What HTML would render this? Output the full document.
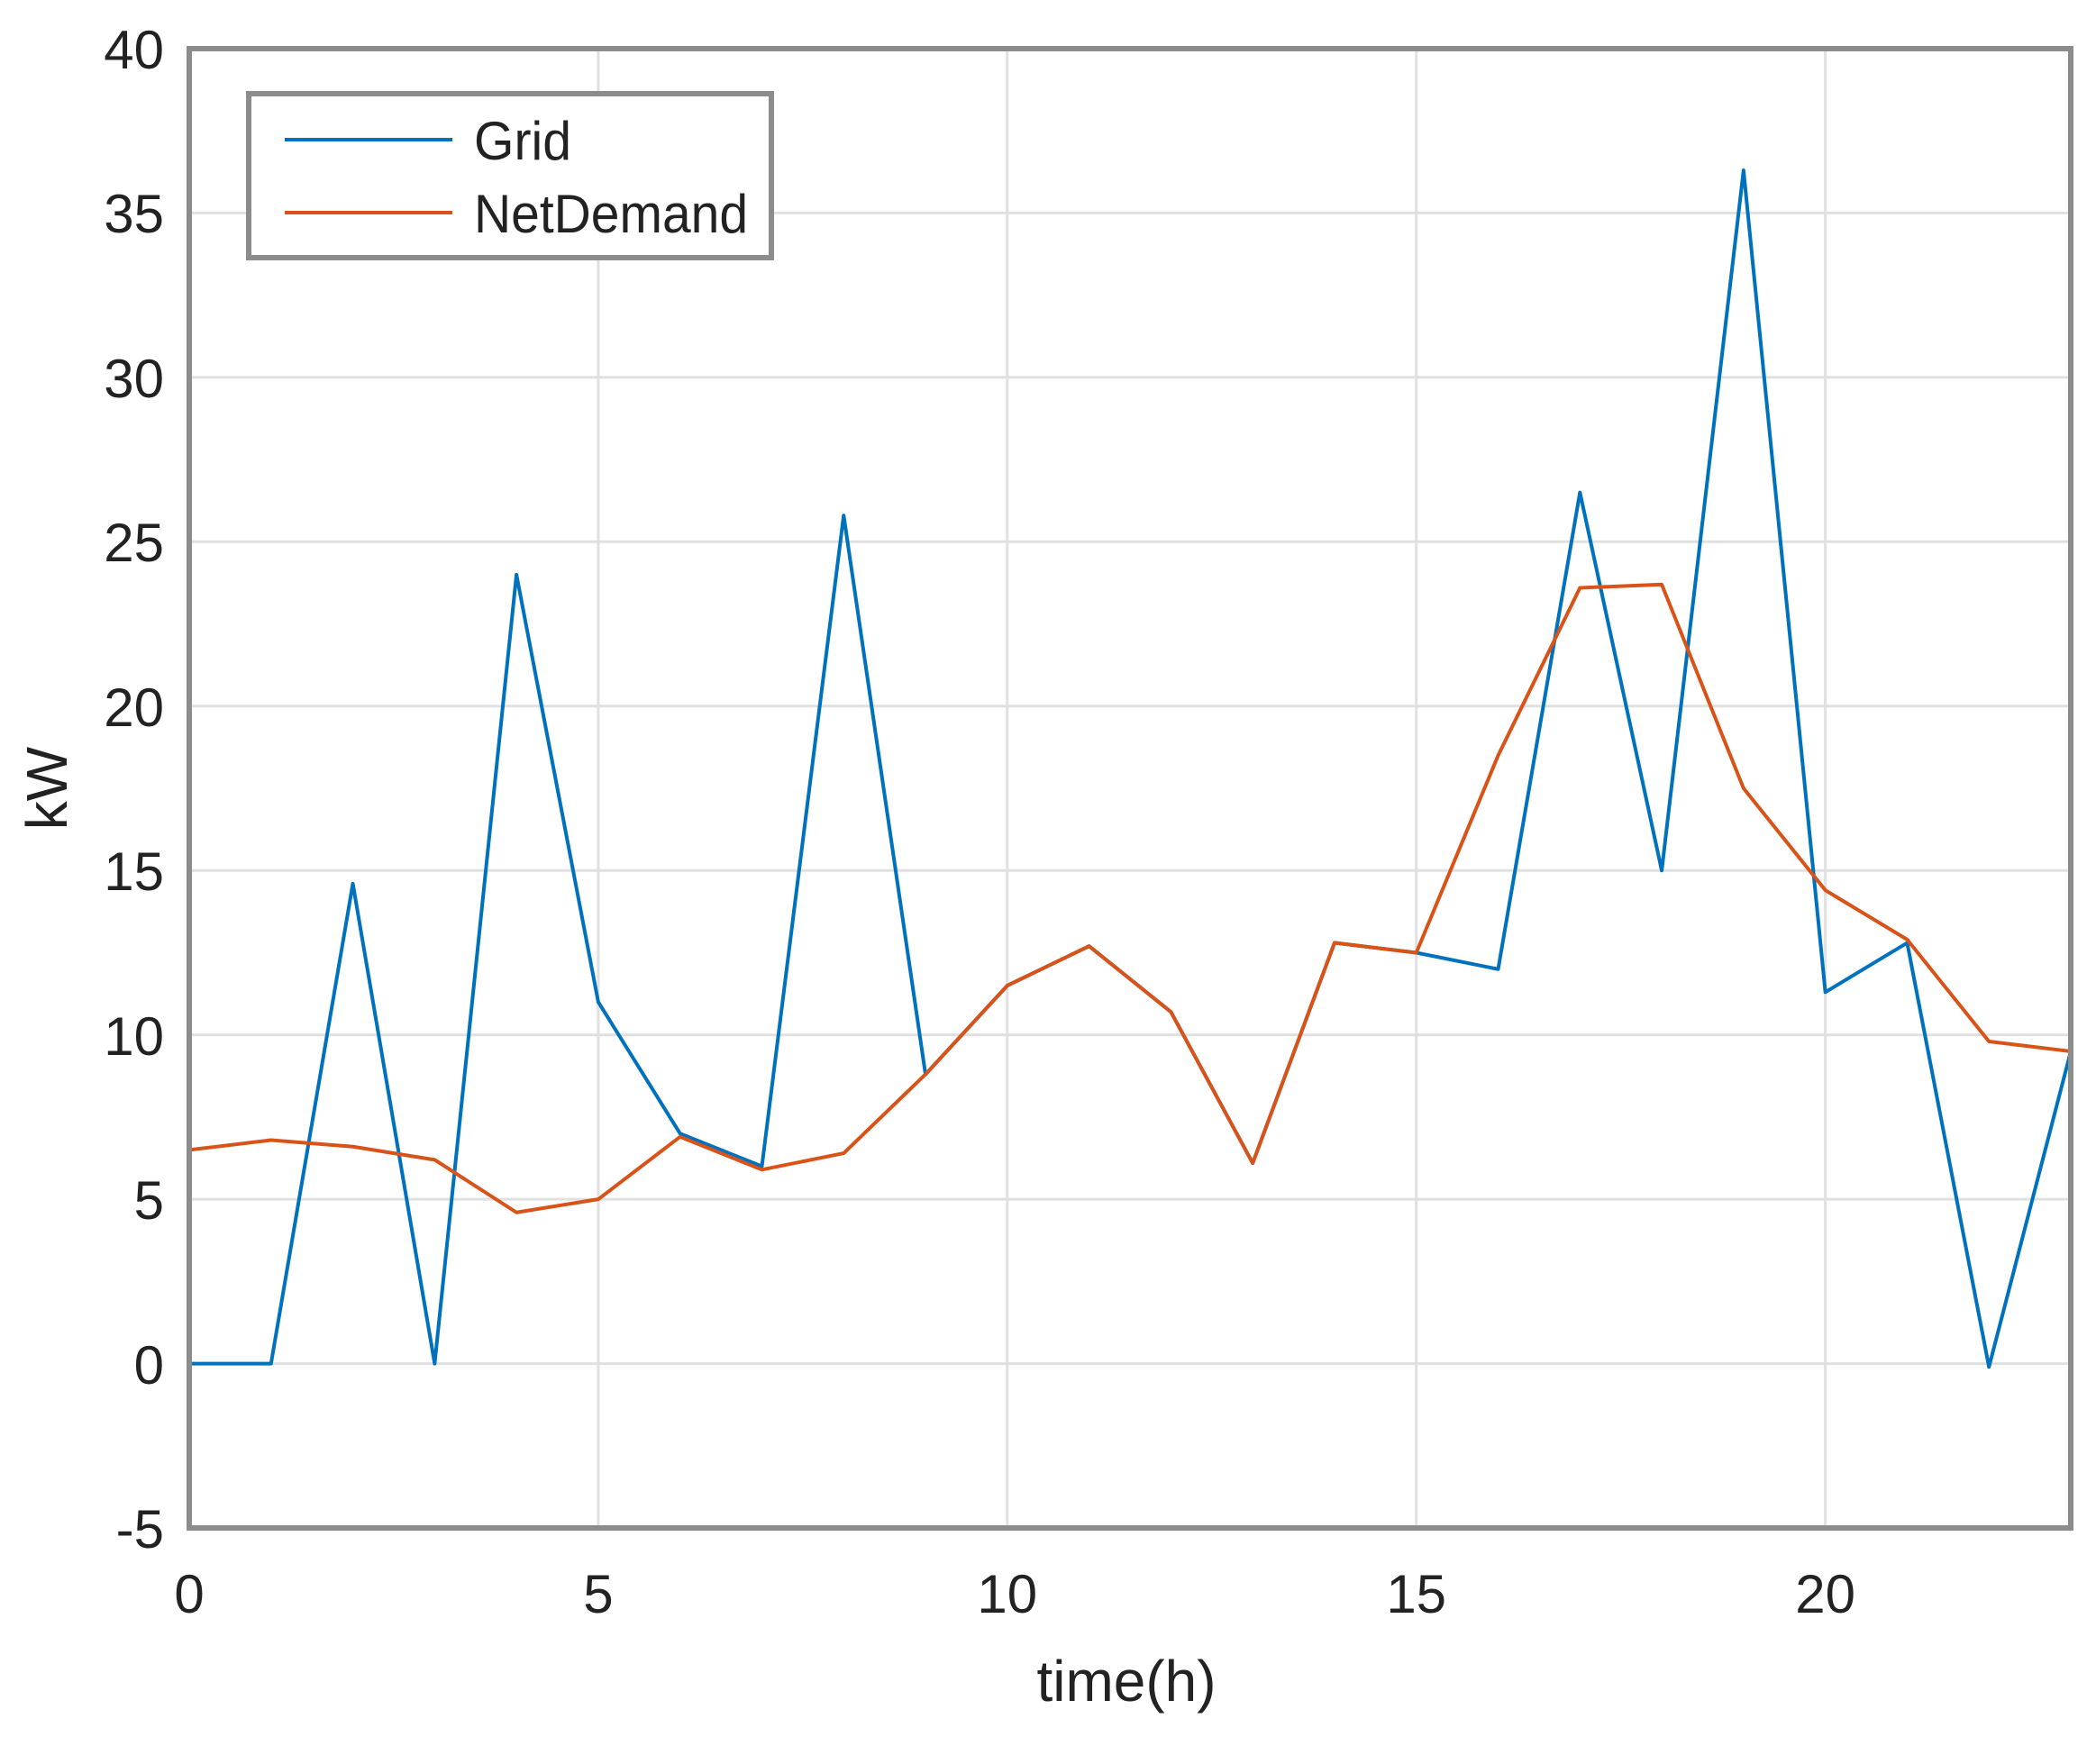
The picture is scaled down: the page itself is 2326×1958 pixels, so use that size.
<!DOCTYPE html>
<html><head><style>html,body{margin:0;padding:0;background:#fff}svg{display:block}</style></head>
<body>
<svg width="2326" height="1958" viewBox="0 0 2326 1958" xmlns="http://www.w3.org/2000/svg">
<rect width="2326" height="1958" fill="#fff"/>
<g stroke="#e0e0e0" stroke-width="3">
<line x1="663.9" y1="54" x2="663.9" y2="1696"/><line x1="1117.8" y1="54" x2="1117.8" y2="1696"/>
<line x1="1571.7" y1="54" x2="1571.7" y2="1696"/><line x1="2025.6" y1="54" x2="2025.6" y2="1696"/>
<line x1="210" y1="236.4" x2="2298" y2="236.4"/><line x1="210" y1="418.9" x2="2298" y2="418.9"/>
<line x1="210" y1="601.3" x2="2298" y2="601.3"/><line x1="210" y1="783.8" x2="2298" y2="783.8"/>
<line x1="210" y1="966.2" x2="2298" y2="966.2"/><line x1="210" y1="1148.7" x2="2298" y2="1148.7"/>
<line x1="210" y1="1331.1" x2="2298" y2="1331.1"/><line x1="210" y1="1513.6" x2="2298" y2="1513.6"/>
</g>
<g transform="translate(210,1513.6) scale(90.783,-36.489)" fill="none" stroke-width="4" stroke-linejoin="round">
<polyline vector-effect="non-scaling-stroke" stroke="#0072BD" points="0,0 1,0 2,14.6 3,0 4,24 5,11 6,7 7,6 8,25.8 9,8.8 10,11.5 11,12.7 12,10.7 13,6.1 14,12.8 15,12.5 16,12 17,26.5 18,15 19,36.3 20,11.3 21,12.8 22,-0.1 23,9.5"/>
<polyline vector-effect="non-scaling-stroke" stroke="#D95319" points="0,6.5 1,6.8 2,6.6 3,6.2 4,4.6 5,5 6,6.9 7,5.9 8,6.4 9,8.8 10,11.5 11,12.7 12,10.7 13,6.1 14,12.8 15,12.5 16,18.5 17,23.6 18,23.7 19,17.5 20,14.4 21,12.9 22,9.8 23,9.5"/>
</g>
<rect x="210" y="54" width="2088" height="1642" fill="none" stroke="#8c8c8c" stroke-width="6"/>
<rect x="276" y="104" width="580" height="182" fill="#fff" stroke="#8c8c8c" stroke-width="6"/>
<line x1="316" y1="155" x2="502" y2="155" stroke="#0072BD" stroke-width="4"/>
<line x1="316" y1="236" x2="502" y2="236" stroke="#D95319" stroke-width="4"/>
<g font-family="Liberation Sans, sans-serif" fill="#222" font-size="60">
<text x="526" y="177" textLength="108" lengthAdjust="spacingAndGlyphs">Grid</text>
<text x="526" y="258" textLength="304" lengthAdjust="spacingAndGlyphs">NetDemand</text>
<g text-anchor="end">
<text x="182" y="76">40</text><text x="182" y="258">35</text><text x="182" y="441">30</text>
<text x="182" y="623">25</text><text x="182" y="806">20</text><text x="182" y="988">15</text>
<text x="182" y="1171">10</text><text x="182" y="1353">5</text><text x="182" y="1536">0</text>
<text x="182" y="1718">-5</text>
</g>
<g text-anchor="middle">
<text x="210" y="1790">0</text><text x="663.9" y="1790">5</text><text x="1117.8" y="1790">10</text>
<text x="1571.7" y="1790">15</text><text x="2025.6" y="1790">20</text>
<text x="1250" y="1888" font-size="64">time(h)</text>
<text transform="translate(74,875) rotate(-90)" font-size="64">kW</text>
</g>
</g>
</svg>
</body></html>
